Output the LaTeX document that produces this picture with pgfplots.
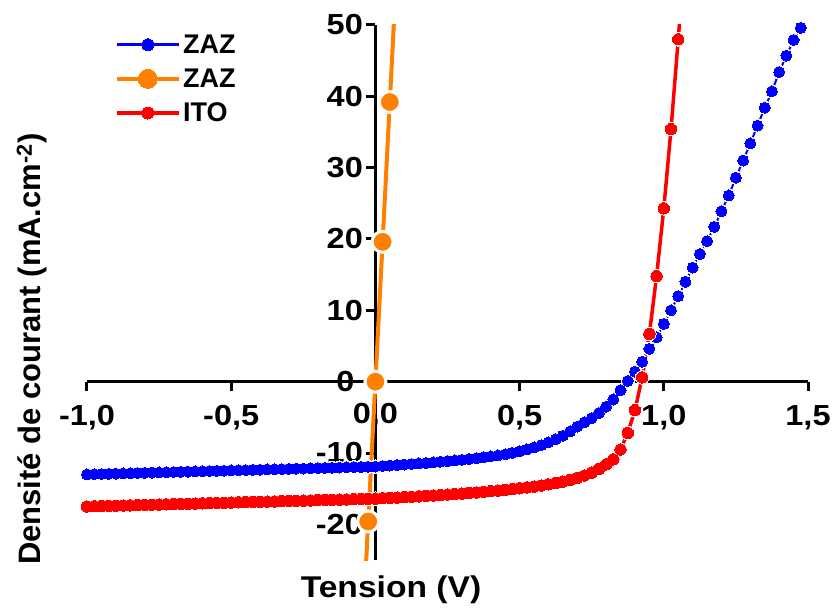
\documentclass[border=0pt]{standalone}
\usepackage{pgfplots}
\usepackage{pgfplotstable}
\pgfplotsset{compat=1.18}
\usepackage{fontspec}
\setmainfont{Liberation Sans}
\newfontfamily\widefont[FakeStretch=1.12]{Liberation Sans}
\definecolor{zblue}{RGB}{0,0,255}
\definecolor{zred}{RGB}{255,0,0}
\definecolor{zorange}{RGB}{255,128,0}

\pgfplotstableread[row sep=\\]{
x y\\
-1.000 -13.00\\ -0.975 -12.97\\ -0.950 -12.95\\ -0.925 -12.92\\ -0.900 -12.89\\ -0.875 -12.86\\ -0.850 -12.84\\ -0.825 -12.81\\
-0.800 -12.78\\ -0.775 -12.75\\ -0.750 -12.73\\ -0.725 -12.70\\ -0.700 -12.67\\ -0.675 -12.64\\ -0.650 -12.62\\ -0.625 -12.59\\
-0.600 -12.56\\ -0.575 -12.53\\ -0.550 -12.51\\ -0.525 -12.48\\ -0.500 -12.45\\ -0.475 -12.42\\ -0.450 -12.40\\ -0.425 -12.37\\
-0.400 -12.34\\ -0.375 -12.31\\ -0.350 -12.29\\ -0.325 -12.26\\ -0.300 -12.23\\ -0.275 -12.20\\ -0.250 -12.18\\ -0.225 -12.15\\
-0.200 -12.12\\ -0.175 -12.09\\ -0.150 -12.07\\ -0.125 -12.04\\ -0.100 -12.01\\ -0.075 -11.98\\ -0.050 -11.96\\ -0.025 -11.93\\
0.000 -11.90\\ 0.025 -11.83\\ 0.050 -11.76\\ 0.075 -11.69\\ 0.100 -11.62\\ 0.125 -11.55\\ 0.150 -11.47\\ 0.175 -11.40\\
0.200 -11.32\\ 0.225 -11.23\\ 0.250 -11.14\\ 0.275 -11.05\\ 0.300 -10.95\\ 0.325 -10.84\\ 0.350 -10.73\\ 0.375 -10.61\\
0.400 -10.48\\ 0.425 -10.34\\ 0.450 -10.18\\ 0.475 -9.98\\ 0.500 -9.75\\ 0.525 -9.50\\ 0.550 -9.22\\ 0.575 -8.90\\
0.600 -8.52\\ 0.625 -8.08\\ 0.650 -7.58\\ 0.675 -6.98\\ 0.700 -6.30\\ 0.725 -5.70\\ 0.750 -5.10\\ 0.775 -4.40\\
0.800 -3.50\\ 0.825 -2.50\\ 0.850 -1.20\\ 0.875 0.10\\ 0.900 1.40\\ 0.925 2.80\\ 0.950 4.60\\ 0.975 6.20\\
1.000 8.10\\ 1.025 10.00\\ 1.050 12.00\\ 1.075 14.00\\ 1.100 16.00\\ 1.125 17.90\\ 1.150 19.70\\ 1.175 21.70\\
1.200 23.90\\ 1.225 26.10\\ 1.250 28.60\\ 1.275 31.00\\ 1.300 33.40\\ 1.325 35.90\\ 1.350 38.40\\ 1.375 40.70\\
1.400 43.40\\ 1.425 45.70\\ 1.450 47.90\\ 1.475 49.60\\
}\zazblue

\pgfplotstableread[row sep=\\]{
x y\\
-1.000 -17.50\\ -0.975 -17.47\\ -0.950 -17.45\\ -0.925 -17.42\\ -0.900 -17.39\\ -0.875 -17.36\\ -0.850 -17.34\\ -0.825 -17.31\\
-0.800 -17.28\\ -0.775 -17.25\\ -0.750 -17.23\\ -0.725 -17.20\\ -0.700 -17.17\\ -0.675 -17.14\\ -0.650 -17.12\\ -0.625 -17.09\\
-0.600 -17.06\\ -0.575 -17.03\\ -0.550 -17.01\\ -0.525 -16.98\\ -0.500 -16.95\\ -0.475 -16.92\\ -0.450 -16.90\\ -0.425 -16.87\\
-0.400 -16.84\\ -0.375 -16.81\\ -0.350 -16.79\\ -0.325 -16.76\\ -0.300 -16.73\\ -0.275 -16.70\\ -0.250 -16.68\\ -0.225 -16.65\\
-0.200 -16.62\\ -0.175 -16.59\\ -0.150 -16.57\\ -0.125 -16.54\\ -0.100 -16.51\\ -0.075 -16.48\\ -0.050 -16.46\\ -0.025 -16.43\\
0.000 -16.40\\ 0.025 -16.35\\ 0.050 -16.30\\ 0.075 -16.25\\ 0.100 -16.20\\ 0.125 -16.14\\ 0.150 -16.08\\ 0.175 -16.02\\
0.200 -15.96\\ 0.225 -15.90\\ 0.250 -15.83\\ 0.275 -15.76\\ 0.300 -15.69\\ 0.325 -15.61\\ 0.350 -15.53\\ 0.375 -15.45\\
0.400 -15.36\\ 0.425 -15.27\\ 0.450 -15.17\\ 0.475 -15.06\\ 0.500 -14.95\\ 0.525 -14.83\\ 0.550 -14.70\\ 0.575 -14.56\\
0.600 -14.40\\ 0.625 -14.22\\ 0.650 -14.02\\ 0.675 -13.78\\ 0.700 -13.50\\ 0.725 -13.15\\ 0.750 -12.75\\ 0.775 -12.25\\
0.800 -11.60\\ 0.825 -10.90\\ 0.850 -9.50\\ 0.875 -7.20\\ 0.900 -4.00\\ 0.925 0.60\\ 0.950 6.70\\ 0.975 14.80\\
1.000 24.30\\ 1.025 35.40\\ 1.050 48.00\\ 1.075 61.00\\
}\ito

\pgfplotstableread[row sep=\\]{
x y\\
-0.050 -39.2\\ -0.025 -19.6\\ 0.000 0.0\\ 0.025 19.6\\ 0.050 39.2\\ 0.075 58.8\\
}\zazorange

\begin{document}
\begin{tikzpicture}
\useasboundingbox (-87pt,-48pt) rectangle (747pt,560pt);
\begin{axis}[
  scale only axis, width=721pt, height=535pt,
  xmin=-1, xmax=1.5, ymin=-25, ymax=50,
  axis lines=middle,
  axis line style={line width=3pt, -},
  every inner x axis line/.append style={-},
  every inner y axis line/.append style={-},
  xtick={-1,-0.5,0.5,1,1.5},
  xticklabels={{-1,0},{-0,5},{0,5},{1,0},{1,5}},
  ytick={-20,-10,10,20,30,40,50},
  yticklabels={-20,-10,10,20,30,40,50},
  tick style={line width=3pt, black},
  major tick length=9pt,
  tick align=outside,
  ticklabel style={font=\widefont\fontsize{29}{32}\selectfont\bfseries},
  xticklabel style={yshift=-11pt},
  xlabel={Tension (V)},
  every axis x label/.style={at={(rel axis cs:0.4216,-0.055)}, anchor=center, font=\widefont\fontsize{30}{34}\selectfont\bfseries},
  ylabel={Densité de courant (mA.cm\textsuperscript{-2})},
  every axis y label/.style={at={(rel axis cs:-0.0763,0.394)}, anchor=center, rotate=90, font=\fontsize{31}{34}\selectfont\bfseries},
  legend cell align=left,
  legend style={at={(rel axis cs:0.038,0.986)}, anchor=north west, draw=none, fill=none, inner sep=0pt, row sep=10pt, font=\fontsize{27}{32}\selectfont\bfseries},
  legend image code/.code={\draw[mark repeat=2,mark phase=2] plot coordinates {(0pt,0pt)(31pt,0pt)(62pt,0pt)};},
]
\addlegendimage{zblue, line width=3.5pt, mark=*, mark size=6pt, mark options={fill=zblue, line width=0pt}}
\addlegendentry{ZAZ}
\addlegendimage{zorange, line width=4.5pt, mark=*, mark size=9.5pt, mark options={fill=zorange, line width=0pt}}
\addlegendentry{ZAZ}
\addlegendimage{zred, line width=3.5pt, mark=*, mark size=6pt, mark options={fill=zred, line width=0pt}}
\addlegendentry{ITO}

% origin tick labels
\node[font=\widefont\fontsize{29}{32}\selectfont\bfseries, anchor=center] at (axis cs:-0.104,0) {0};
\node[font=\widefont\fontsize{29}{32}\selectfont\bfseries, anchor=center] at (axis cs:0,-4.78) {0,0};

% ZAZ (blue): line, white halos, dots
\addplot[forget plot, zblue, line width=2pt, no markers] table {\zazblue};
\addplot[forget plot, white, only marks, mark=*, mark size=6.6pt, mark options={draw=white, fill=white, line width=0pt}] table {\zazblue};
\addplot[forget plot, zblue, only marks, mark=*, mark size=5.5pt, mark options={draw=zblue, fill=zblue, line width=0pt}] table {\zazblue};

% ITO (red): line, white halos, dots
\addplot[forget plot, zred, line width=3.5pt, no markers] table {\ito};
\addplot[forget plot, white, only marks, mark=*, mark size=6.8pt, mark options={draw=white, fill=white, line width=0pt}] table {\ito};
\addplot[forget plot, zred, only marks, mark=*, mark size=5.7pt, mark options={draw=zred, fill=zred, line width=0pt}] table {\ito};

% ZAZ (orange)
\addplot[forget plot, zorange, line width=4pt, mark=*, mark size=10.5pt, mark options={fill=zorange, draw=white, line width=3pt}] table {\zazorange};
\end{axis}
\end{tikzpicture}
\end{document}
